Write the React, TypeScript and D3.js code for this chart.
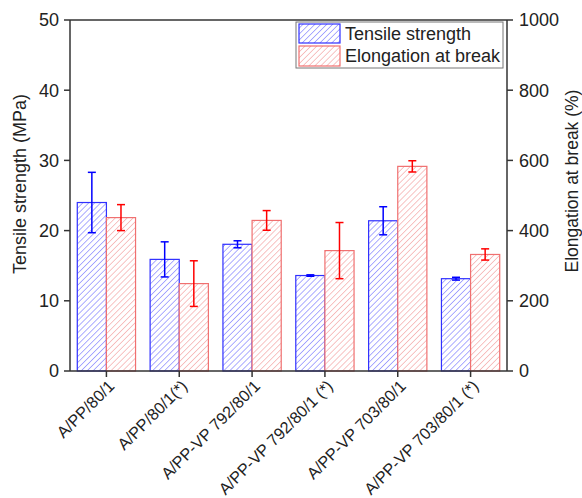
import React from "react";
import * as d3 from "d3";

const categories = [
  "A/PP/80/1",
  "A/PP/80/1(*)",
  "A/PP-VP 792/80/1",
  "A/PP-VP 792/80/1 (*)",
  "A/PP-VP 703/80/1",
  "A/PP-VP 703/80/1 (*)",
];
const tensile = [24.0, 15.9, 18.05, 13.6, 21.4, 13.15];
const tensileErr = [4.3, 2.5, 0.5, 0.1, 2.0, 0.2];
const elongation = [437, 249, 429, 343, 583, 332];
const elongationErr = [37, 65, 28, 80, 16, 16];
const leftTicks = [0, 10, 20, 30, 40, 50];
const rightTicks = [0, 200, 400, 600, 800, 1000];

const W = 582;
const H = 498;
const m = { left: 70, right: 75, top: 20, bottom: 127 };
const font = "Arial, 'Liberation Sans', sans-serif";
const axisColor = "#333";

export default function App() {
  const x0 = d3
    .scaleBand<string>()
    .domain(categories)
    .range([m.left, W - m.right]);
  const x1 = d3
    .scaleBand<string>()
    .domain(["t", "e"])
    .range([0, x0.bandwidth()])
    .paddingOuter(0.25);
  const yL = d3.scaleLinear().domain([0, 50]).range([H - m.bottom, m.top]);
  const yR = d3.scaleLinear().domain([0, 1000]).range([H - m.bottom, m.top]);
  const bottom = H - m.bottom;
  const right = W - m.right;
  const cap = 4;

  const series = [
    { key: "t", vals: tensile, errs: tensileErr, y: yL, stroke: "#3030ff", err: "#0000ff", fill: "url(#hatchBlue)" },
    { key: "e", vals: elongation, errs: elongationErr, y: yR, stroke: "#f07070", err: "#ff0000", fill: "url(#hatchRed)" },
  ];

  return (
    <svg width={W} height={H} style={{ position: "absolute", left: 0, top: 0, background: "#fff" }} fontFamily={font}>
      <defs>
        <pattern id="hatchBlue" patternUnits="userSpaceOnUse" width={4.2} height={4.2} patternTransform="rotate(45)">
          <rect width={4.2} height={4.2} fill="#fff" />
          <line x1={0} y1={0} x2={0} y2={4.2} stroke="#5c5cff" strokeWidth={1} />
        </pattern>
        <pattern id="hatchRed" patternUnits="userSpaceOnUse" width={4.2} height={4.2} patternTransform="rotate(45)">
          <rect width={4.2} height={4.2} fill="#fff" />
          <line x1={0} y1={0} x2={0} y2={4.2} stroke="#f08a8a" strokeWidth={1} />
        </pattern>
      </defs>

      {/* bars */}
      {series.map((s) =>
        categories.map((c, i) => {
          const bx = (x0(c) ?? 0) + (x1(s.key) ?? 0);
          const bw = x1.bandwidth();
          const top = s.y(s.vals[i]);
          return (
            <rect key={s.key + i} x={bx} y={top} width={bw} height={bottom - top}
              fill={s.fill} stroke={s.stroke} strokeWidth={1.2} />
          );
        })
      )}

      {/* error bars */}
      {series.map((s) =>
        categories.map((c, i) => {
          const cx = (x0(c) ?? 0) + (x1(s.key) ?? 0) + x1.bandwidth() / 2;
          const hi = s.y(s.vals[i] + s.errs[i]);
          const lo = s.y(s.vals[i] - s.errs[i]);
          return (
            <g key={"e" + s.key + i} stroke={s.err} strokeWidth={1.5}>
              <line x1={cx} x2={cx} y1={hi} y2={lo} />
              <line x1={cx - cap} x2={cx + cap} y1={hi} y2={hi} />
              <line x1={cx - cap} x2={cx + cap} y1={lo} y2={lo} />
            </g>
          );
        })
      )}

      {/* frame */}
      <g stroke={axisColor} strokeWidth={1.5} fill="none">
        <line x1={m.left} x2={right} y1={m.top} y2={m.top} />
        <line x1={m.left} x2={right} y1={bottom} y2={bottom} />
        <line x1={m.left} x2={m.left} y1={m.top} y2={bottom} />
        <line x1={right} x2={right} y1={m.top} y2={bottom} />
      </g>

      {/* left axis */}
      {leftTicks.map((t) => (
        <g key={"l" + t}>
          <line x1={m.left - 6} x2={m.left} y1={yL(t)} y2={yL(t)} stroke={axisColor} strokeWidth={1.5} />
          <text x={m.left - 11} y={yL(t)} dy="0.35em" textAnchor="end" fontSize={18} fill="#222">{t}</text>
        </g>
      ))}
      {/* right axis */}
      {rightTicks.map((t) => (
        <g key={"r" + t}>
          <line x1={right} x2={right + 6} y1={yR(t)} y2={yR(t)} stroke={axisColor} strokeWidth={1.5} />
          <text x={right + 12} y={yR(t)} dy="0.35em" textAnchor="start" fontSize={18} fill="#222">{t}</text>
        </g>
      ))}
      {/* bottom axis */}
      {categories.map((c) => {
        const cx = (x0(c) ?? 0) + x0.bandwidth() / 2;
        return (
          <g key={"b" + c}>
            <line x1={cx} x2={cx} y1={bottom} y2={bottom + 6} stroke={axisColor} strokeWidth={1.5} />
            <text transform={`translate(${cx + 5},${bottom + 12}) rotate(-45)`} textAnchor="end" dy="0.35em"
              fontSize={16.3} fill="#222">{c}</text>
          </g>
        );
      })}

      {/* axis titles */}
      <text transform={`translate(20,184) rotate(-90)`} textAnchor="middle" dy="0.35em"
        fontSize={18} fill="#222">Tensile strength (MPa)</text>
      <text transform={`translate(572,181) rotate(-90)`} textAnchor="middle" dy="0.35em"
        fontSize={17.5} fill="#222">Elongation at break (%)</text>

      {/* legend */}
      <g>
        <rect x={296} y={22} width={207} height={46} fill="#fff" stroke="#777" strokeWidth={1} />
        <rect x={299} y={24} width={41} height={19} fill="url(#hatchBlue)" stroke="#3030ff" strokeWidth={1.2} />
        <rect x={299} y={46} width={41} height={20} fill="url(#hatchRed)" stroke="#f07070" strokeWidth={1.2} />
        <text x={345} y={34} dy="0.35em" fontSize={18} fill="#222">Tensile strength</text>
        <text x={345} y={56} dy="0.35em" fontSize={18} fill="#222">Elongation at break</text>
      </g>
    </svg>
  );
}
